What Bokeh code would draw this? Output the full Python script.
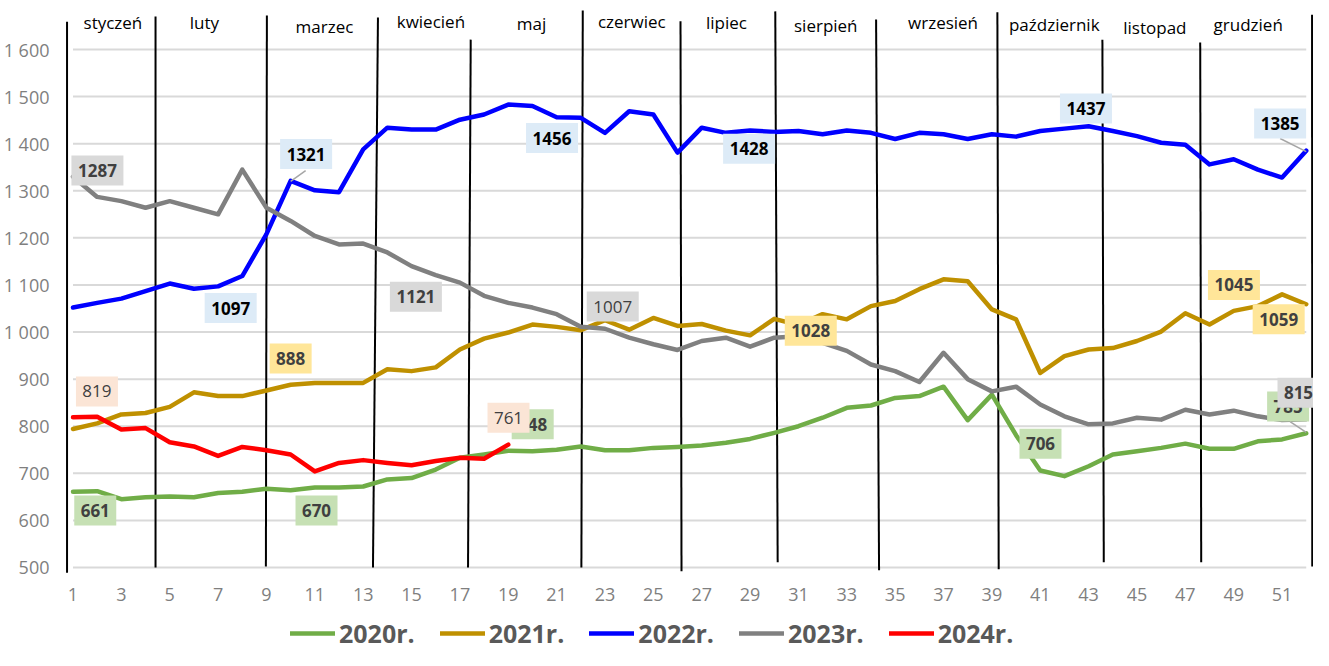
from bokeh.plotting import figure
from bokeh.models import FixedTicker, Legend, LegendItem
from bokeh.core.properties import value
from bokeh.embed import file_html
from bokeh.resources import INLINE

# ---------------- data ----------------
WEEKS = list(range(1, 53))
X_TICKS = list(range(1, 52, 2))
Y_TICKS = [500, 600, 700, 800, 900, 1000, 1100, 1200, 1300, 1400, 1500, 1600]
Y_TICK_LABELS = ["500", "600", "700", "800", "900", "1 000", "1 100", "1 200",
                 "1 300", "1 400", "1 500", "1 600"]

SERIES_NAMES = ["2020r.", "2021r.", "2022r.", "2023r.", "2024r."]

S2020 = [661, 662, 645, 649, 651, 649, 658, 661, 667, 664, 670, 670, 672, 687, 690, 708,
         733, 740, 748, 747, 750, 757, 749, 749, 754, 756, 759, 765, 773, 786, 800, 818,
         839, 844, 860, 864, 884, 813, 867, 781, 706, 694, 715, 740, 747, 754, 763, 752,
         752, 768, 772, 785]
S2021 = [794, 806, 825, 828, 841, 872, 864, 864, 876, 888, 892, 892, 892, 921, 917, 925,
         963, 986, 999, 1016, 1011, 1004, 1025, 1005, 1030, 1013, 1017, 1003, 993, 1028,
         1015, 1038, 1027, 1055, 1066, 1091, 1112, 1108, 1048, 1027, 913, 949, 963, 966,
         981, 1001, 1040, 1016, 1045, 1055, 1080, 1059]
S2022 = [1052, 1062, 1071, 1087, 1103, 1092, 1097, 1119, 1208, 1321, 1301, 1297, 1388,
         1434, 1430, 1430, 1451, 1462, 1483, 1480, 1456, 1455, 1423, 1469, 1462, 1381,
         1434, 1423, 1428, 1425, 1427, 1420, 1428, 1423, 1410, 1423, 1420, 1410, 1420,
         1415, 1427, 1432, 1437, 1427, 1416, 1402, 1398, 1356, 1367, 1345, 1328, 1385]
S2023 = [1330, 1287, 1278, 1264, 1278, 1264, 1250, 1345, 1264, 1236, 1204, 1186, 1188,
         1169, 1140, 1121, 1105, 1077, 1062, 1052, 1038, 1011, 1007, 988, 974, 962, 981,
         988, 969, 988, 991, 977, 960, 931, 917, 894, 956, 900, 874, 884, 846, 821, 804,
         806, 818, 814, 835, 825, 833, 821, 813, 815]
S2024 = [819, 820, 793, 796, 766, 757, 737, 756, 749, 740, 704, 722, 728, 722, 717, 726,
         733, 731, 761]

SERIES_VALUES = [S2020, S2021, S2022, S2023, S2024]
SERIES_COLORS = ["#70AD47", "#BF9000", "#0000FF", "#808080", "#FF0000"]
LABEL_FILLS = ["#C6E0B4", "#FFE699", "#DDEBF7", "#D9D9D9", "#FBE5D6"]
LABEL_TEXT_COLORS = ["#404040", "#404040", "#000000", "#404040", "#404040"]

MONTHS = ["styczeń", "luty", "marzec", "kwiecień", "maj", "czerwiec", "lipiec",
          "sierpień", "wrzesień", "październik", "listopad", "grudzień"]
MONTH_LABEL_X = [2.65, 6.43, 11.40, 15.80, 19.96, 24.11, 28.02, 32.13, 36.98, 41.58,
                 45.74, 49.60]
MONTH_LABEL_Y = [1657, 1657, 1649, 1660, 1655, 1660, 1657, 1651, 1657, 1653, 1647, 1653]

# month separators (hand-drawn dividers): top / bottom x and y
DIV_X_TOP = [0.753, 4.413, 9.018, 13.611, 17.447, 22.081, 26.123, 30.042, 34.211, 39.227,
             43.570, 47.615, 52.240]
DIV_X_BOTTOM = [0.753, 4.413, 8.977, 13.405, 17.336, 22.024, 26.164, 30.141, 34.334,
                39.281, 43.627, 47.656, 52.250]
DIV_Y_TOP = [1659, 1670, 1672, 1668, 1621, 1683, 1660, 1681, 1664, 1679, 1621, 1615, 1674]
DIV_Y_BOTTOM = [489, 500, 502, 500, 500, 500, 492, 511, 494, 496, 511, 511, 502]

# data labels: series index, week, box centre (x in weeks, y in value units), bold
LABEL_SERIES = [3, 2, 2, 3, 2, 2, 3, 1, 2, 2, 1, 1, 0, 3, 0, 0, 0, 0, 4, 4, 1]
LABEL_WEEK = [2, 10, 7, 16, 21, 29, 23, 30, 43, 52, 49, 52, 52, 52, 41, 1, 11, 19, 19, 1, 10]
LABEL_BOX_X = [2.01, 10.64, 7.52, 15.18, 20.81, 28.96, 23.32, 31.51, 42.89, 50.92, 49.01,
               50.86, 51.25, 51.68, 41.01, 1.92, 11.07, 20.01, 19.01, 1.99, 10.00]
LABEL_BOX_Y = [1343, 1378, 1051, 1075, 1412, 1389, 1054, 1003, 1475, 1443, 1100, 1027,
               842, 871, 763, 621, 621, 804, 818, 874, 944]
LABEL_BOLD = [True, True, True, True, True, True, False, True, True, True, True, True,
              True, True, True, True, True, True, False, False, True]

# leader lines (x0, y0, x1, y1)
LEADER_X0 = [10.00, 50.92, 51.33]
LEADER_Y0 = [1320, 1411, 810]
LEADER_X1 = [10.62, 52.00, 52.00]
LEADER_Y1 = [1343, 1383, 787]

FONT = "Open Sans"

# ---------------- figure ----------------
p = figure(width=1313, height=650, x_range=(0.40, 52.30), y_range=(323.7, 1704.1),
           output_backend="svg", toolbar_location=None,
           min_border_left=50, min_border_right=0, min_border_top=0, min_border_bottom=0)
p.outline_line_color = None
p.xgrid.visible = False
p.ygrid.visible = False

# axes
p.yaxis.ticker = FixedTicker(ticks=Y_TICKS)
p.yaxis.major_label_overrides = {t: s for t, s in zip(Y_TICKS, Y_TICK_LABELS)}
p.xaxis.ticker = FixedTicker(ticks=X_TICKS)
p.xaxis.fixed_location = 480
for ax in (p.xaxis[0], p.yaxis[0]):
    ax.axis_line_color = None
    ax.major_tick_line_color = None
    ax.minor_tick_line_color = None
    ax.major_label_text_font = FONT
    ax.major_label_text_font_size = "18px"
    ax.major_label_text_color = "#7F7F7F"
p.yaxis.major_label_standoff = 3
p.xaxis.major_label_standoff = 5

# gridlines across the week span
p.segment(x0=[WEEKS[0]] * len(Y_TICKS), x1=[WEEKS[-1]] * len(Y_TICKS), y0=Y_TICKS,
          y1=Y_TICKS, line_color="#D9D9D9", line_width=2)

# month dividers
p.segment(x0=DIV_X_TOP, y0=DIV_Y_TOP, x1=DIV_X_BOTTOM, y1=DIV_Y_BOTTOM,
          line_color="#000000", line_width=2)

# month names
p.text(x=MONTH_LABEL_X, y=MONTH_LABEL_Y, text=MONTHS, text_align="center",
       text_baseline="middle", text_font=value(FONT), text_font_size="17px",
       text_color="#000000")

# series
renderers = []
for vals, col in zip(SERIES_VALUES, SERIES_COLORS):
    r = p.line(WEEKS[:len(vals)], vals, line_color=col, line_width=4.5,
               line_join="round", line_cap="round")
    renderers.append(r)

# leader lines
p.segment(x0=LEADER_X0, y0=LEADER_Y0, x1=LEADER_X1, y1=LEADER_Y1,
          line_color="#A6A6A6", line_width=1.5)

# data labels
for si, wk, bx, by, bold in zip(LABEL_SERIES, LABEL_WEEK, LABEL_BOX_X, LABEL_BOX_Y,
                                LABEL_BOLD):
    txt = str(SERIES_VALUES[si][wk - 1])
    p.rect(x=[bx], y=[by], width=[10 * len(txt) + 12], height=[30],
           width_units="screen", height_units="screen",
           fill_color=LABEL_FILLS[si], line_color=None)
    p.text(x=[bx], y=[by], text=[txt], text_align="center", text_baseline="middle",
           text_font=value(FONT), text_font_size="17px",
           text_font_style="bold" if bold else "normal",
           text_color=LABEL_TEXT_COLORS[si])

legend = Legend(items=[LegendItem(label=n, renderers=[r])
                       for n, r in zip(SERIES_NAMES, renderers)],
                orientation="horizontal", location=(232, 0))
legend.border_line_color = None
legend.background_fill_alpha = 0
legend.glyph_width = 45
legend.glyph_height = 24
legend.label_height = 24
legend.label_standoff = 4
legend.spacing = 25
legend.padding = 0
legend.margin = 0
legend.label_text_font = FONT
legend.label_text_font_size = "25px"
legend.label_text_font_style = "bold"
legend.label_text_color = "#595959"
p.add_layout(legend)

open("out.html", "w").write(file_html(p, INLINE))
